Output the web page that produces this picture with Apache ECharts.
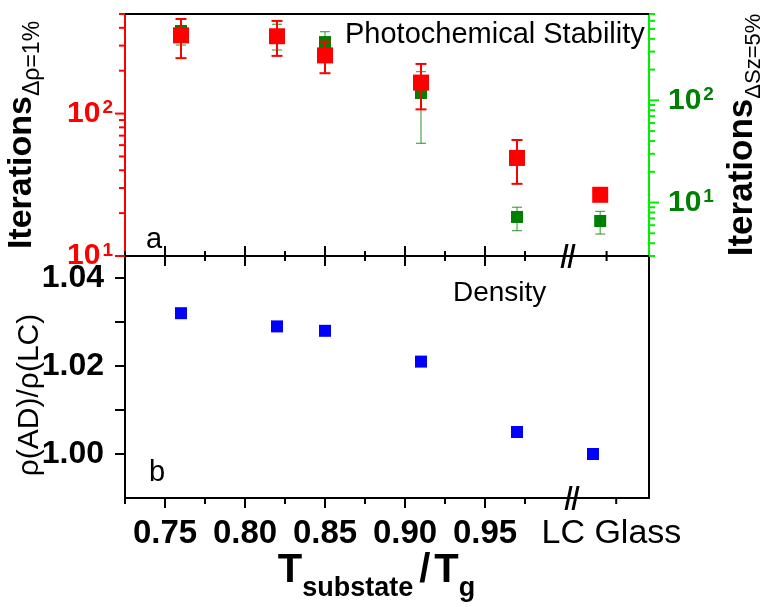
<!DOCTYPE html>
<html><head><meta charset="utf-8">
<script src="https://cdn.jsdelivr.net/npm/echarts@6/dist/echarts.min.js"></script>
<style>html,body{margin:0;padding:0;background:#fff}#c{width:762px;height:607px}</style>
</head><body><div id="c"></div>
<script>
// ---- data ----
const iterX = [0.76, 0.82, 0.85, 0.91, 0.97, 1.022];
const densityX = [0.76, 0.82, 0.85, 0.91, 0.97, 1.0175];
const redIter = [354, 349, 256, 165, 48.8, 26.9];
const redLow = [245, 254, 192, 107, 32.1, null];
const redHigh = [461, 447, 320, 223, 65.2, null];
const greenIter = [477, 417, 372, 118, 7.23, 6.6];
const greenLow = [348, 311, 297, 38, 5.31, 4.92];
const greenHigh = [625, 555, 470, 191, 9.0, 8.2];
const density = [1.032, 1.029, 1.028, 1.021, 1.005, 1.000];
const xMajorTicks = [0.75, 0.80, 0.85, 0.90, 0.95];
const xMinorTicksTop = [0.725, 0.775, 0.825, 0.875, 0.925, 0.975, 1.026];
const xMinorTicksBottom = [0.725, 0.775, 0.825, 0.875, 0.925, 0.975, 1.032];
const xLabelValues = [0.75, 0.80, 0.85, 0.90, 0.95, 1.029];
const lcLabel = 'LC Glass';
const leftLogMajor = [10, 100];
const leftLogMinor = [20, 30, 40, 50, 60, 70, 80, 90, 200, 300, 400, 500];
const rightLogMajor = [10, 100];
const rightLogMinor = [3, 4, 5, 6, 7, 8, 9, 20, 30, 40, 50, 60, 70, 80, 90, 200, 300, 400, 500, 600, 700];
const densityTicks = [1.00, 1.01, 1.02, 1.03, 1.04];
const densityLabels = [1.00, 1.02, 1.04];
const breakTop = [[1.0019, 10]];
const breakBottom = [[1.0044, 0.99]];

// ---- chart ----
const F = 'Liberation Sans, Arial, sans-serif';
const RED = '#ff0000', GREEN = '#008000', GREENLINE = '#00ee00', BLUE = '#0000ff';
const XMIN = 0.725, XMAX = 1.0525;

function errRender(color, width, capHalf, opacity) {
  return function (params, api) {
    const x = api.value(0), lo = api.value(1), hi = api.value(2);
    const a = api.coord([x, lo]), b = api.coord([x, hi]);
    const style = { stroke: color, lineWidth: width, opacity: opacity };
    return { type: 'group', children: [
      { type: 'line', shape: { x1: a[0], y1: a[1], x2: b[0], y2: b[1] }, style: style },
      { type: 'line', shape: { x1: a[0] - capHalf, y1: a[1], x2: a[0] + capHalf, y2: a[1] }, style: style },
      { type: 'line', shape: { x1: b[0] - capHalf, y1: b[1], x2: b[0] + capHalf, y2: b[1] }, style: style }
    ]};
  };
}
function errData(xs, lo, hi) {
  const out = [];
  xs.forEach((x, i) => { if (lo[i] != null && hi[i] != null) out.push([x, lo[i], hi[i]]); });
  return out;
}
// tick marks drawn through the axes' own scales (custom series)
function tickSeries(xi, yi, vals, dim, side, from, to, color, other) {
  return {
    type: 'custom', xAxisIndex: xi, yAxisIndex: yi, silent: true, z: 6, clip: false,
    encode: { x: 0, y: 1 },
    data: vals.map(v => dim === 'x' ? [v, other] : [other, v]),
    renderItem: function (params, api) {
      const cs = params.coordSys;
      const p = api.coord([api.value(0), api.value(1)]);
      let shape;
      if (dim === 'x') {
        const y0 = side === 'bottom' ? cs.y + cs.height : cs.y;
        const d = side === 'bottom' ? 1 : -1;
        shape = { x1: p[0], y1: y0 + d * from, x2: p[0], y2: y0 + d * to };
      } else {
        const x0 = side === 'left' ? cs.x : cs.x + cs.width;
        const d = side === 'left' ? -1 : 1;
        shape = { x1: x0 + d * from, y1: p[1], x2: x0 + d * to, y2: p[1] };
      }
      return { type: 'line', shape: shape, style: { stroke: color, lineWidth: 2 } };
    }
  };
}
function lineOpt(color) { return { show: true, onZero: false, lineStyle: { color: color || '#000', width: 2 } }; }
function xAx(grid, pos, opts) {
  return Object.assign({
    type: 'value', gridIndex: grid, position: pos, min: XMIN, max: XMAX,
    splitLine: { show: false }, axisLabel: { show: false },
    axisTick: { show: false }, axisLine: lineOpt()
  }, opts);
}
const breakPath = 'path://M5,0L8,0L3,24L0,24Z M12,0L15,0L10,24L7,24Z';
const logLabel = v => '{b|10}{s|' + Math.round(Math.log10(v)) + '}';
function logRich(color) {
  return {
    b: { fontFamily: F, fontSize: 30, fontWeight: 'bold', color: color, lineHeight: 30, verticalAlign: 'top', padding: [0, 0, 12, 0] },
    s: { fontFamily: F, fontSize: 19, fontWeight: 'bold', color: color, lineHeight: 19, verticalAlign: 'top', padding: [0, 0, 0, 2] }
  };
}

const option = {
  animation: false,
  backgroundColor: '#fff',
  grid: [
    { left: 125, right: 113, top: 14, height: 242, outerBoundsMode: 'none', containLabel: false },
    { left: 125, right: 113, top: 256, height: 242, outerBoundsMode: 'none', containLabel: false }
  ],
  xAxis: [
    xAx(0, 'bottom', {}),
    xAx(0, 'top', {}),
    xAx(1, 'bottom', {
      axisLabel: { show: true, customValues: xLabelValues, margin: 19,
        formatter: v => v > 1 ? '{lc|' + lcLabel + '}' : '{d|' + v.toFixed(2) + '}',
        rich: { d: { fontFamily: F, fontSize: 33, fontWeight: 'bold', color: '#000' },
                lc: { fontFamily: F, fontSize: 34, color: '#000' } } },
      name: '{T|T}{s|substate}{sl|/}{T|T}{s|g}', nameLocation: 'middle', nameGap: 53, nameMoveOverlap: false,
      nameTextStyle: { padding: [0, 21, 0, 0], rich: {
        T: { fontFamily: F, fontSize: 40, fontWeight: 'bold', color: '#000', lineHeight: 40, verticalAlign: 'top' },
        sl: { fontFamily: F, fontSize: 40, fontWeight: 'bold', color: '#000', lineHeight: 40, verticalAlign: 'top', padding: [0, 4, 0, 6] },
        s: { fontFamily: F, fontSize: 27, fontWeight: 'bold', color: '#000', lineHeight: 27, verticalAlign: 'top', padding: [24, 0, 0, 0] }
      } } }),
    xAx(1, 'top', {})
  ],
  yAxis: [
    { type: 'log', logBase: 10, gridIndex: 0, position: 'left', min: 10, max: 500,
      splitLine: { show: false }, axisLine: lineOpt(RED), axisTick: { show: false },
      axisLabel: { customValues: leftLogMajor, margin: 12, formatter: logLabel, rich: logRich(RED) },
      name: '{m|Iterations}{s|Δρ=1%}', nameLocation: 'middle', nameRotate: 90, nameGap: 81, nameMoveOverlap: false,
      nameTextStyle: { rich: {
        m: { fontFamily: F, fontSize: 34, fontWeight: 'bold', color: '#000', lineHeight: 44, verticalAlign: 'middle' },
        s: { fontFamily: F, fontSize: 23, color: '#000', lineHeight: 23, verticalAlign: 'bottom' } } } },
    { type: 'log', logBase: 10, gridIndex: 0, position: 'right', min: 3, max: 700,
      splitLine: { show: false }, axisLine: lineOpt(GREENLINE), axisTick: { show: false },
      axisLabel: { customValues: rightLogMajor, margin: 19, formatter: logLabel, rich: logRich(GREEN) },
      name: '{m|Iterations}{s|ΔSz=5%}', nameLocation: 'middle', nameRotate: 90, nameGap: 70, nameMoveOverlap: false,
      nameTextStyle: { rich: {
        m: { fontFamily: F, fontSize: 35, fontWeight: 'bold', color: '#000', lineHeight: 46, verticalAlign: 'middle' },
        s: { fontFamily: F, fontSize: 22, color: '#000', lineHeight: 22, verticalAlign: 'bottom' } } } },
    { type: 'value', gridIndex: 1, position: 'left', min: 0.99, max: 1.045,
      splitLine: { show: false }, axisLine: lineOpt(), axisTick: { show: false },
      axisLabel: { customValues: densityLabels, margin: 21, formatter: v => v.toFixed(2),
        fontFamily: F, fontSize: 32, fontWeight: 'bold', color: '#000' },
      name: 'ρ(AD)/ρ(LC)', nameLocation: 'middle', nameRotate: 90, nameGap: 80, nameMoveOverlap: false,
      nameTextStyle: { fontFamily: F, fontSize: 30, color: '#000', lineHeight: 30, padding: [0, 36, 0, 0] } },
    { type: 'value', gridIndex: 1, position: 'right', min: 0.99, max: 1.045,
      splitLine: { show: false }, axisLabel: { show: false }, axisTick: { show: false },
      axisLine: lineOpt() }
  ],
  series: [
    // ticks
    tickSeries(0, 0, xMajorTicks, 'x', 'bottom', -10, 10, '#000', 100),
    tickSeries(0, 0, xMinorTicksTop, 'x', 'bottom', -5, 5, '#000', 100),
    tickSeries(2, 2, xMajorTicks, 'x', 'bottom', 0, 10, '#000', 1.02),
    tickSeries(2, 2, xMinorTicksBottom, 'x', 'bottom', 0, 6, '#000', 1.02),
    tickSeries(0, 0, leftLogMajor, 'y', 'left', 0, 10, RED, 0.8),
    tickSeries(0, 0, leftLogMinor, 'y', 'left', 0, 6, RED, 0.8),
    tickSeries(0, 1, rightLogMajor, 'y', 'right', 0, 10, GREENLINE, 0.8),
    tickSeries(0, 1, rightLogMinor, 'y', 'right', 0, 6, GREENLINE, 0.8),
    tickSeries(2, 2, densityTicks, 'y', 'left', 0, 10, '#000', 0.8),
    // data
    { type: 'custom', xAxisIndex: 0, yAxisIndex: 1, renderItem: errRender(GREEN, 1.2, 5, 0.7),
      encode: { x: 0, y: [1, 2] }, data: errData(iterX, greenLow, greenHigh), z: 2 },
    { type: 'scatter', xAxisIndex: 0, yAxisIndex: 1, symbol: 'rect', symbolSize: 12,
      itemStyle: { color: GREEN, opacity: 1 }, data: iterX.map((x, i) => [x, greenIter[i]]), z: 3 },
    { type: 'custom', xAxisIndex: 0, yAxisIndex: 0, renderItem: errRender(RED, 2, 5.5, 1),
      encode: { x: 0, y: [1, 2] }, data: errData(iterX, redLow, redHigh), z: 4 },
    { type: 'scatter', xAxisIndex: 0, yAxisIndex: 0, symbol: 'rect', symbolSize: 16,
      itemStyle: { color: RED, opacity: 1 }, data: iterX.map((x, i) => [x, redIter[i]]), z: 5 },
    { type: 'scatter', xAxisIndex: 2, yAxisIndex: 2, symbol: 'rect', symbolSize: 12,
      itemStyle: { color: BLUE, opacity: 1 }, data: densityX.map((x, i) => [x, density[i]]), z: 5 },
    { type: 'scatter', xAxisIndex: 0, yAxisIndex: 0, symbol: breakPath, symbolSize: [15, 24],
      clip: false, itemStyle: { color: '#000', opacity: 1 }, data: breakTop, z: 10, silent: true },
    { type: 'scatter', xAxisIndex: 2, yAxisIndex: 2, symbol: breakPath, symbolSize: [15, 24],
      clip: false, itemStyle: { color: '#000', opacity: 1 }, data: breakBottom, z: 10, silent: true }
  ],
  graphic: [
    { type: 'text', z: 100, style: { x: 345, y: 35, text: 'Photochemical Stability', fontFamily: F, fontSize: 29, fill: '#000', align: 'left', verticalAlign: 'middle' } },
    { type: 'text', z: 100, style: { x: 453, y: 293, text: 'Density', fontFamily: F, fontSize: 28, fill: '#000', align: 'left', verticalAlign: 'middle' } },
    { type: 'text', z: 100, style: { x: 146, y: 240, text: 'a', fontFamily: F, fontSize: 29, fill: '#000', align: 'left', verticalAlign: 'middle' } },
    { type: 'text', z: 100, style: { x: 149, y: 473, text: 'b', fontFamily: F, fontSize: 29, fill: '#000', align: 'left', verticalAlign: 'middle' } }
  ]
};
const chart = echarts.init(document.getElementById('c'), null, { renderer: 'canvas' });
chart.setOption(option);
</script></body></html>
